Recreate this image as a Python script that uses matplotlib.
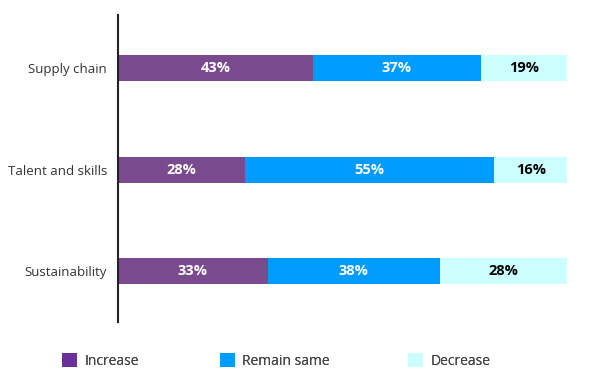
import matplotlib.pyplot as plt
from matplotlib.patches import Patch

categories = ['Supply chain', 'Talent and skills', 'Sustainability']
increase = [43, 28, 33]
remain = [37, 55, 38]
decrease = [19, 16, 28]
series_names = ['Increase', 'Remain same', 'Decrease']

plt.rcParams['font.family'] = ['Open Sans', 'DejaVu Sans']

fig = plt.figure(figsize=(6, 3.75), dpi=100)
ax = fig.add_axes([118/600, 1 - 322/375, 453.5/600, 307/375])

bar_cols = ['#7a4a8e', '#009bff', '#ccffff']
leg_cols = ['#6a2f9a', '#009bff', '#ccffff']
txt_cols = ['white', 'white', 'black']

y = list(range(len(categories)))
left = [0] * len(categories)
for vals, bc, tc in zip([increase, remain, decrease], bar_cols, txt_cols):
    ax.barh(y, vals, left=left, height=0.256, color=bc, edgecolor='none')
    for i, v in enumerate(vals):
        ax.text(left[i] + v / 2, y[i], f'{v}%', ha='center', va='center',
                color=tc, fontsize=10.5, fontweight='bold')
    left = [l + v for l, v in zip(left, vals)]

ax.set_xlim(0, 100)
ax.set_ylim(2.5, -0.52)
ax.set_yticks(y)
ax.set_yticklabels(categories, fontsize=9.5, color='#333333')
ax.tick_params(axis='y', length=0, pad=8)
ax.set_xticks([])
for s in ['top', 'right', 'bottom']:
    ax.spines[s].set_visible(False)
ax.spines['left'].set_linewidth(1.5)
ax.spines['left'].set_color('#222222')

# one legend per entry so the gaps match the original
leg_x = [62, 220, 408]
for name, c, lx in zip(series_names, leg_cols, leg_x):
    lg = fig.legend([Patch(facecolor=c, edgecolor='none')], [name],
                    loc='center left', bbox_to_anchor=(lx / 600, 1 - 361/375),
                    frameon=False, fontsize=10, handlelength=1.1, handleheight=1.1,
                    handletextpad=0.5, borderaxespad=0, borderpad=0,
                    labelcolor='#444444')
    fig.add_artist(lg)

fig.savefig('out.png', dpi=100)
